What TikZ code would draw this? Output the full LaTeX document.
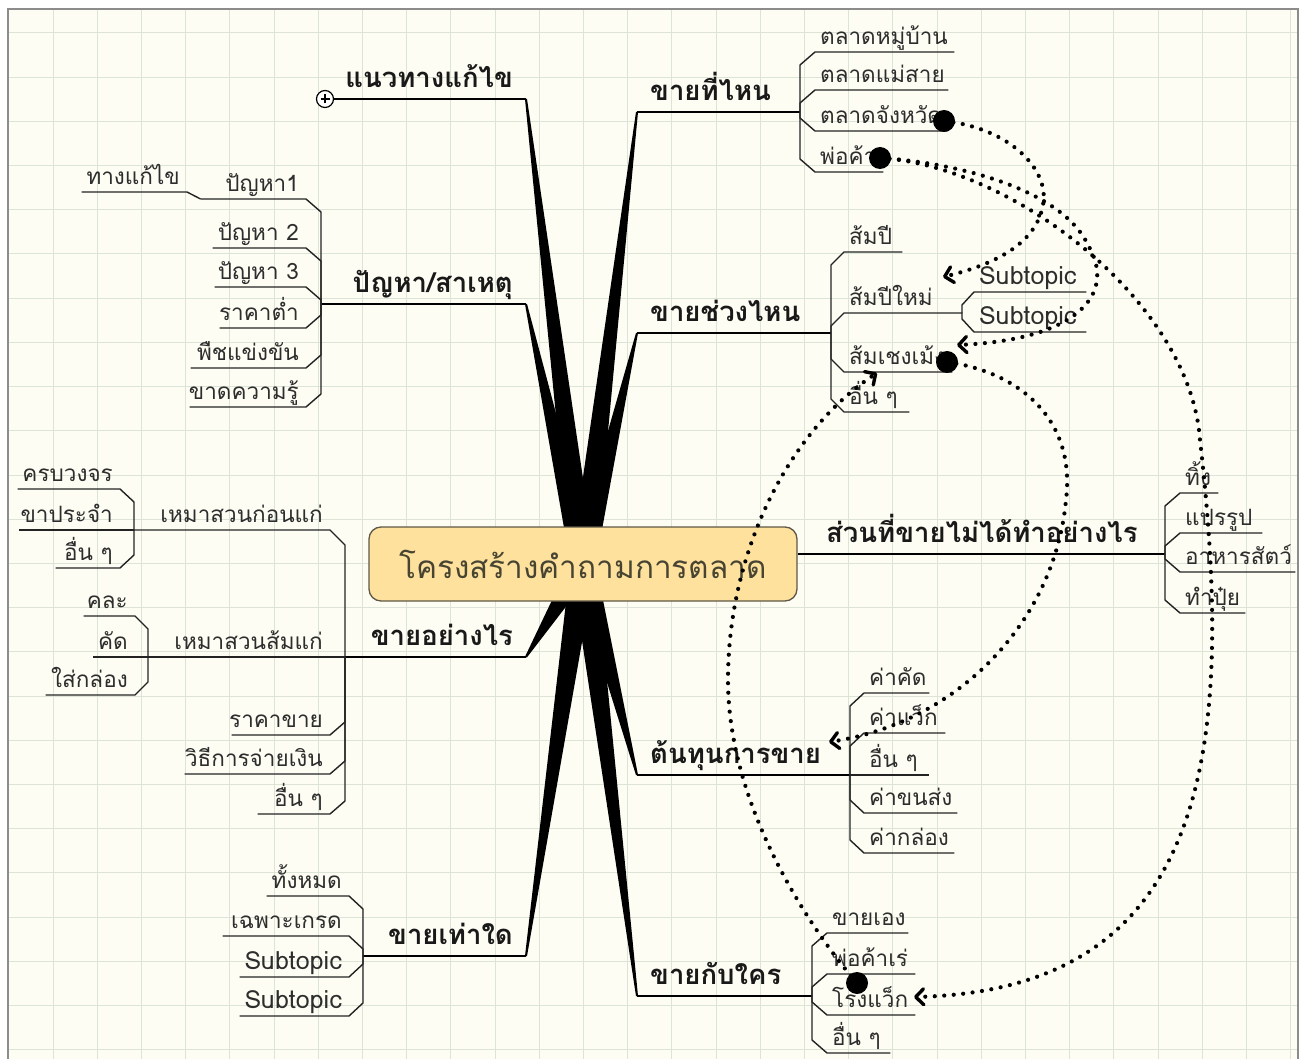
\documentclass[tikz,border=0pt]{standalone}
\usepackage{fontspec}
\setmainfont[Script=Thai]{Loma}
\usetikzlibrary{calc,arrows.meta}
\definecolor{cream}{RGB}{253,253,243}
\definecolor{gridc}{RGB}{220,228,216}
\definecolor{framec}{RGB}{140,140,140}
\definecolor{rootfill}{RGB}{253,225,157}
\definecolor{rootborder}{RGB}{95,88,70}
\definecolor{roottext}{RGB}{72,68,50}
\definecolor{subtext}{RGB}{45,45,45}
\definecolor{subline}{RGB}{35,35,35}
\tikzset{
  kid/.style={inner xsep=0pt, inner ysep=2pt, text height=16pt, text depth=5pt,
    font=\fontsize{22.5}{22.5}\selectfont, text=subtext},
  topic/.style={inner xsep=13pt, inner ysep=3pt, text height=22pt, text depth=8pt,
    font=\bfseries\fontsize{27.5}{27.5}\selectfont, text=black!90},
  root/.style={draw=rootborder, fill=rootfill, rounded corners=12pt, line width=1.3pt,
    minimum width=428pt, minimum height=74pt, font=\fontsize{31.5}{31.5}\selectfont, text=roottext},
  tl/.style={line width=1.8pt, black},
  sl/.style={line width=1.4pt, subline},
  rel/.style={line width=4.2pt, line cap=round, dash pattern=on 0pt off 9.5pt, black,
    -{Straight Barb[round,length=8pt,width=16pt,line width=3.4pt]}},
  plusc/.style={circle, draw, line width=1.2pt, fill=white, minimum size=17pt, inner sep=0pt,
    path picture={\draw[line width=1.1pt] ([xshift=-4.5pt]path picture bounding box.center) -- ([xshift=4.5pt]path picture bounding box.center);
      \draw[line width=1.1pt] ([yshift=-4.5pt]path picture bounding box.center) -- ([yshift=4.5pt]path picture bounding box.center);}},
  gridline/.style={gridc, line width=1pt}
}
\newcommand\lat[1]{{\fontsize{25}{25}\selectfont #1}}
\newcommand\rkid[5]{\node[kid,anchor=south west] (#1) at (#2,#4) {\hbox to \dimexpr#3pt-#2pt\relax{\hspace{5pt}#5\hss}};}
\newcommand\lkid[5]{\node[kid,anchor=south east] (#1) at (#3,#4) {\hbox to \dimexpr#3pt-#2pt\relax{\hss#5\hspace{7pt}}};}
\newcommand\rcon[3]{\draw[sl] (#1) -- (#1 |- 0,#3) -- (#2.south west) -- (#2.south east);}
\newcommand\lcon[3]{\draw[sl] (#1) -- (#1 |- 0,#3) -- (#2.south east) -- (#2.south west);}
\newcommand\rstr[2]{\draw[sl] (#1) -- (#2.south west) -- (#2.south east);}
\newcommand\lstr[2]{\draw[sl] (#1) -- (#2.south east) -- (#2.south west);}
\newcommand\mmbranch[2]{\fill[black] ($(#1)!12.5pt!90:(#2)$) -- ($(#2)!1pt!-90:(#1)$) -- ($(#2)!1pt!90:(#1)$) -- ($(#1)!12.5pt!-90:(#2)$) -- cycle;}
\begin{document}
\begin{tikzpicture}[x=1pt,y=-1pt]
\useasboundingbox (0,0) rectangle (1310,1059);
\fill[white] (0,0) rectangle (1310,1059);
\fill[cream] (8,9) rectangle (1298,1059);
\foreach \i in {0,...,28} {\draw[gridline] ({53+44.2*\i},9) -- ({53+44.2*\i},1059);}
\foreach \j in {0,...,23} {\draw[gridline] (8,{33+44.2*\j}) -- (1298,{33+44.2*\j});}
\draw[framec, line width=1.5pt] (8,1059) -- (8,9) -- (1298,9) -- (1298,1059);

% hub and spines
\coordinate (hub) at (583,564);
\coordinate (sA) at (800,112);
\coordinate (sB) at (831,333);
\coordinate (sB2) at (962,313);
\coordinate (sC) at (1165,554);
\coordinate (sD) at (850,775);
\coordinate (sE) at (812,996);
\coordinate (sF) at (321,304);
\coordinate (sG) at (345,657);
\coordinate (sG1) at (134,530);
\coordinate (sG2) at (148,657);
\coordinate (sH) at (363,956);

% main topics
\node[topic,anchor=south east] (t1) at (526,99) {แนวทางแก้ไข};
\node[topic,anchor=south east] (t2) at (526,304) {ปัญหา/สาเหตุ};
\node[topic,anchor=south east] (t3) at (526,657) {ขายอย่างไร};
\node[topic,anchor=south east] (t4) at (526,956) {ขายเท่าใด};
\node[topic,anchor=south west] (t5) at (637,112) {ขายที่ไหน};
\node[topic,anchor=south west] (t6) at (637,333) {ขายช่วงไหน};
\node[topic,anchor=south west] (t7) at (813,554) {ส่วนที่ขายไม่ได้ทำอย่างไร};
\node[topic,anchor=south west] (t8) at (637,775) {ต้นทุนการขาย};
\node[topic,anchor=south west] (t9) at (637,996) {ขายกับใคร};

% tapered branches
\mmbranch{hub}{t1.south east}
\mmbranch{hub}{t2.south east}
\mmbranch{hub}{t3.south east}
\mmbranch{hub}{t4.south east}
\mmbranch{hub}{t5.south west}
\mmbranch{hub}{t6.south west}
\mmbranch{hub}{t8.south west}
\mmbranch{hub}{t9.south west}

\node[root] (root) at (hub) {โครงสร้างคำถามการตลาด};

% topic lines
\node[plusc] (pl) at (325,99) {};
\draw[tl] (t1.south east) -- (pl.east);
\draw[tl] (t2.south east) -- (sF);
\draw[tl] (t3.south east) -- (sG);
\draw[tl] (t4.south east) -- (sH);
\draw[tl] (t5.south west) -- (sA);
\draw[tl] (t6.south west) -- (sB);
\draw[tl] (root.east |- 0,554) -- (sC);
\draw[tl] (t8.south west) -- (sD);
\draw[tl] (t9.south west) -- (sE);

% ขายที่ไหน
\rkid{k11}{815}{954}{52}{ตลาดหมู่บ้าน}   \rcon{sA}{k11}{65}
\rkid{k12}{815}{948}{90}{ตลาดแม่สาย}     \rcon{sA}{k12}{103}
\rkid{k13}{815}{947}{131}{ตลาดจังหวัด}   \rcon{sA}{k13}{118}
\rkid{k14}{815}{883}{172}{พ่อค้า}        \rcon{sA}{k14}{159}

% ขายช่วงไหน
\rkid{k21}{844}{902}{252}{ส้มปี}         \rcon{sB}{k21}{265}
\rkid{k22}{844}{962}{313}{ส้มปีใหม่}     \rcon{sB}{k22}{326}
\rkid{k221}{974}{1086}{292}{\lat{Subtopic}}   \rcon{sB2}{k221}{305}
\rkid{k222}{974}{1086}{332}{\lat{Subtopic}}   \rcon{sB2}{k222}{319}
\rkid{k23}{844}{952}{372}{ส้มเชงเม้ง}    \rcon{sB}{k23}{359}
\rkid{k24}{844}{909}{412}{อื่น ๆ}        \rcon{sB}{k24}{399}

% ส่วนที่ขายไม่ได้
\rkid{k31}{1180}{1218}{493}{ทิ้ง}        \rcon{sC}{k31}{506}
\rkid{k32}{1180}{1262}{533}{แปรรูป}      \rcon{sC}{k32}{546}
\rkid{k33}{1180}{1295}{572}{อาหารสัตว์}  \rcon{sC}{k33}{559}
\rkid{k34}{1180}{1245}{613}{ทำปุ๋ย}      \rcon{sC}{k34}{600}

% ต้นทุนการขาย
\rkid{k41}{864}{929}{693}{ค่าคัด}        \rcon{sD}{k41}{706}
\rkid{k42}{864}{945}{733}{ค่าแว็ก}       \rcon{sD}{k42}{746}
\rkid{k43}{864}{929}{775}{อื่น ๆ}        \rstr{sD}{k43}
\rkid{k44}{864}{957}{813}{ค่าขนส่ง}      \rcon{sD}{k44}{800}
\rkid{k45}{864}{954}{853}{ค่ากล่อง}      \rcon{sD}{k45}{840}

% ขายกับใคร
\rkid{k51}{827}{908}{933}{ขายเอง}        \rcon{sE}{k51}{946}
\rkid{k52}{827}{915}{974}{พ่อค้าเร่}      \rcon{sE}{k52}{987}
\rkid{k53}{827}{915}{1015}{โรงแว็ก}      \rcon{sE}{k53}{1002}
\rkid{k54}{827}{890}{1053}{อื่น ๆ}       \rcon{sE}{k54}{1040}

% ปัญหา/สาเหตุ
\lkid{k61}{201}{306}{199}{ปัญหา1}        \lcon{sF}{k61}{212}
\lkid{k611}{82}{187}{192}{ทางแก้ไข}
\draw[sl] (k61.south west) -- (k611.south east) -- (k611.south west);
\lkid{k62}{213}{306}{248}{ปัญหา 2}       \lcon{sF}{k62}{261}
\lkid{k63}{215}{306}{287}{ปัญหา 3}       \lcon{sF}{k63}{300}
\lkid{k64}{220}{306}{328}{ราคาต่ำ}       \lcon{sF}{k64}{315}
\lkid{k65}{191}{306}{368}{พืชแข่งขัน}    \lcon{sF}{k65}{355}
\lkid{k66}{190}{306}{407}{ขาดความรู้}    \lcon{sF}{k66}{394}

% ขายอย่างไร
\lkid{k71}{134}{330}{530}{เหมาสวนก่อนแก่}  \lcon{sG}{k71}{545}
\lkid{k711}{18}{120}{489}{ครบวงจร}        \lcon{sG1}{k711}{502}
\lkid{k712}{19}{120}{530}{ขาประจำ}        \lstr{sG1}{k712}
\lkid{k713}{56}{120}{568}{อื่น ๆ}          \lcon{sG1}{k713}{555}
\lkid{k72}{148}{330}{657}{เหมาสวนส้มแก่}   \lstr{sG}{k72}
\lkid{k721}{84}{135}{616}{คละ}            \lcon{sG2}{k721}{629}
\lkid{k722}{93}{135}{657}{คัด}            \lstr{sG2}{k722}
\lkid{k723}{46}{135}{695}{ใส่กล่อง}        \lcon{sG2}{k723}{682}
\lkid{k73}{232}{330}{735}{ราคาขาย}        \lcon{sG}{k73}{722}
\lkid{k74}{185}{330}{774}{วิธีการจ่ายเงิน}   \lcon{sG}{k74}{761}
\lkid{k75}{258}{330}{814}{อื่น ๆ}          \lcon{sG}{k75}{801}

% ขายเท่าใด
\lkid{k81}{267}{349}{896}{ทั้งหมด}        \lcon{sH}{k81}{909}
\lkid{k82}{223}{349}{936}{เฉพาะเกรด}      \lcon{sH}{k82}{949}
\lkid{k83}{240}{349}{977}{\lat{Subtopic}}      \lcon{sH}{k83}{964}
\lkid{k84}{240}{349}{1016}{\lat{Subtopic}}     \lcon{sH}{k84}{1003}

% relationships
\coordinate (dA) at (944,121);  \coordinate (aA) at (943,277);
\coordinate (dB) at (880,158);  \coordinate (aB1) at (957,345); \coordinate (aB2) at (914,997);
\coordinate (dC) at (947,362);  \coordinate (aC) at (829,742);
\coordinate (dD) at (857,983);  \coordinate (aD) at (877,373);
\draw[rel] (dA) .. controls (1010,128) and (1050,170) .. (1043,205) .. controls (1036,245) and (992,265) .. (aA);
\draw[rel] (dB) .. controls (960,163) and (1062,190) .. (1088,245) .. controls (1118,295) and (1075,340) .. (aB1);
\draw[rel] (dB) .. controls (1010,165) and (1190,300) .. (1200,440) .. controls (1235,750) and (1210,990) .. (aB2);
\draw[rel] (dC) .. controls (1020,372) and (1076,420) .. (1066,500) .. controls (1055,620) and (960,722) .. (aC);
\draw[rel] (dD) .. controls (815,935) and (728,810) .. (728,680) .. controls (728,550) and (790,430) .. (aD);
\foreach \p in {dA,dB,dC,dD} {\fill[black] (\p) circle[radius=11pt];}
\end{tikzpicture}
\end{document}
